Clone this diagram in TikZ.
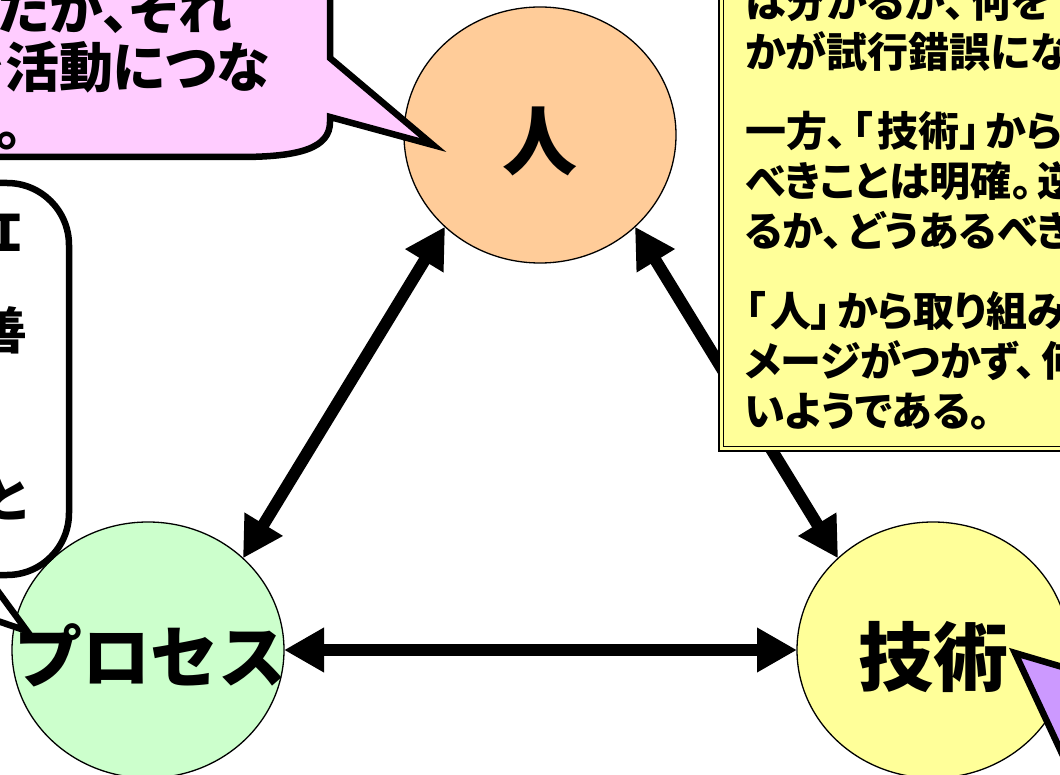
\documentclass[tikz,border=0pt]{standalone}
\usepackage{fontspec}
\newfontfamily\jp[RawFeature=+palt]{Noto Sans CJK JP}
\newfontfamily\jpf{Noto Sans CJK JP}
\usetikzlibrary{arrows.meta,shapes.geometric}
\definecolor{cOrange}{HTML}{FFCC99}
\definecolor{cGreen}{HTML}{CCFFCC}
\definecolor{cYellow}{HTML}{FFFF99}
\definecolor{cPink}{HTML}{FFCCFF}
\definecolor{cPurple}{HTML}{CC99FF}
\newcommand\myfs[1]{\fontsize{#1pt}{#1pt}\selectfont}
\newcommand\pk[1]{#1\kern5pt}
\begin{document}
\begin{tikzpicture}[x=1pt,y=-1pt,
  circ/.style={ellipse, draw=black, line width=1.3pt, minimum width=272pt, minimum height=256pt, inner sep=0pt, outer sep=0pt},
  biarrow/.style={line width=12pt, {Triangle[length=40pt,width=42pt]}-{Triangle[length=40pt,width=42pt]}},
  callout/.style={line width=6.5pt, line join=miter, draw=black},
  txt/.style={inner sep=0pt, outer sep=0pt, text=black},
  bigt/.style={txt, anchor=base, font=\jpf\bfseries\myfs{#1}},
  boxt/.style={txt, anchor=base west, font=\jp\bfseries\myfs{41}},
  pinkt/.style={txt, font=\jp\bfseries\myfs{54}},
  whitet/.style={txt, anchor=base east, font=\jp\bfseries\myfs{50}}
]
\useasboundingbox (0,0) rectangle (1060,775);
\clip (0,0) rectangle (1060,775);
% circles
\node[circ, fill=cOrange] (ren) at (540,135) {};
\node[circ, fill=cGreen] (proc) at (148,650) {};
\node[circ, fill=cYellow] (tech) at (933,650) {};
% arrows
\draw[biarrow] (ren.224) -- (proc.44);
\draw[biarrow] (ren.-44) -- (tech.136);
\draw[biarrow] (proc.east) -- (tech.west);
% pink callout
\draw[callout, fill=cPink] (-50,-50) -- (330,-50) -- (330,58) -- (433,145) -- (330,117) -- (330,122)
  .. controls (330,148) and (300,157) .. (240,157) -- (-50,157) -- cycle;
% white callout
\draw[callout, fill=white, rounded corners=62pt] (-100,183) -- (69,183) -- (69,575) -- (-200,575) -- cycle;
\fill[white] (-20,570) -- (27,631) -- (-150,570) -- cycle;
\draw[callout] (-14,575) -- (27,631) -- (-137,575);
% purple callout
\draw[callout, fill=cPurple] (1015,653) -- (1120,684) -- (1120,820) -- (1093,820) -- cycle;
% yellow text box
\draw[line width=2.5pt, fill=cYellow] (719,-20) rectangle (1100,451);
\draw[line width=1.3pt] (723.5,-20) rectangle (1100,446.5);
% circle texts
\node[bigt=75] (tren) at (540,169.5) {人};
\node[bigt=68] (tproc) at (150,682) {プロセス};
\node[bigt=75] (ttech) at (933,685.5) {技術};
% yellow box text
\node[boxt] (y1) at (745,17.6) {は分かるが\pk{、}何を};
\node[boxt] (y2) at (745,67.6) {かが試行錯誤にな};
\node[boxt] (y3) at (745,146.6) {一方\pk{、}\pk{「}技術\pk{」}から};
\node[boxt] (y4) at (745,196.6) {べきことは明確\pk{。}逆};
\node[boxt] (y5) at (745,246.6) {るか\pk{、}どうあるべき};
\node[boxt] (y6) at (745,326.6) {\pk{「}人\pk{」}から取り組み};
\node[boxt] (y7) at (745,376.6) {メージがつかず\pk{、}何};
\node[boxt] (y8) at (745,426.6) {いようである。};
% pink callout text
\node[pinkt, anchor=base west] (p1) at (-2,30) {たが、それ};
\node[pinkt, anchor=base west] (p2) at (5,87.5) {\llap{を}活動につな};
\node[pinkt, anchor=base west] (p3) at (-4,146) {。};
% white callout text
\node[whitet] (w1) at (25,252) {ＣＭＭＩ};
\node[whitet] (w2) at (28,350) {改善};
\node[whitet] (w3) at (27,517) {と};
\end{tikzpicture}
\end{document}
